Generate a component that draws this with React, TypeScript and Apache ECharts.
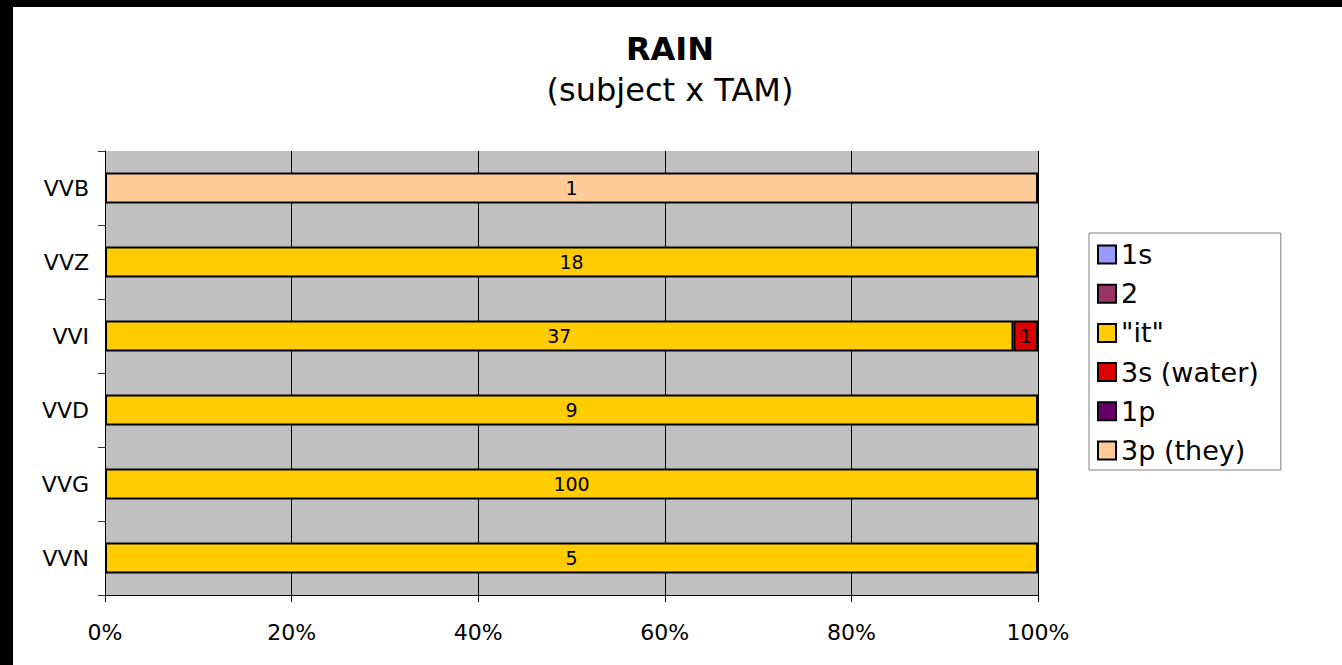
import React, { useEffect, useRef } from "react";
import * as echarts from "echarts";

const categories = ["VVN", "VVG", "VVD", "VVI", "VVZ", "VVB"];
const seriesNames = ["1s", "2", "\"it\"", "3s (water)", "1p", "3p (they)"];
const seriesColors = ["#9999FF", "#993366", "#FFCC00", "#DD0000", "#660066", "#FFCC99"];
const counts1s = [0, 0, 0, 0, 0, 0];
const counts2 = [0, 0, 0, 0, 0, 0];
const countsIt = [5, 100, 9, 37, 18, 0];
const counts3s = [0, 0, 0, 1, 0, 0];
const counts1p = [0, 0, 0, 0, 0, 0];
const counts3p = [0, 0, 0, 0, 0, 1];
const xTicks = [0, 20, 40, 60, 80, 100];

const FONT = "DejaVu Sans";

export default function App() {
  const ref = useRef<HTMLDivElement>(null);
  useEffect(() => {
    if (!ref.current) return;
    const chart = echarts.init(ref.current, null, { renderer: "svg" });
    const all = [counts1s, counts2, countsIt, counts3s, counts1p, counts3p];
    const totals = categories.map((_, i) => all.reduce((s, a) => s + a[i], 0));
    const series = all.map((arr, si) => ({
      name: seriesNames[si],
      type: "bar",
      stack: "total",
      barWidth: 31,
      itemStyle: { color: seriesColors[si], borderColor: "#000", borderWidth: 2 },
      label: {
        show: true,
        position: "inside",
        color: "#000",
        fontSize: 19,
        fontFamily: FONT,
        formatter: (p: any) => String(arr[p.dataIndex]),
      },
      data: arr.map((v, i) => (v > 0 ? (v / totals[i]) * 100 : "-")),
    }));
    chart.setOption({
      animation: false,
      backgroundColor: "#fff",
      title: [
        {
          text: "RAIN",
          left: 665,
          top: 28,
          textAlign: "center",
          textStyle: { fontFamily: FONT, fontSize: 32, fontWeight: "bold", color: "#000" },
        },
        {
          text: "(subject x TAM)",
          left: 665,
          top: 69,
          textAlign: "center",
          textStyle: { fontFamily: FONT, fontSize: 32, fontWeight: "normal", color: "#000" },
        },
      ],
      graphic: [
        { type: "rect", shape: { x: 0, y: 0, width: 1342, height: 7 }, style: { fill: "#000" } },
        { type: "rect", shape: { x: 0, y: 0, width: 13, height: 665 }, style: { fill: "#000" } },
      ],
      legend: {
        orient: "vertical",
        left: 1089,
        top: 233,
        itemWidth: 18,
        itemHeight: 18,
        itemGap: 12.2,
        padding: [8, 22, 6, 8],
        borderColor: "#808080",
        borderWidth: 1,
        icon: "rect",
        textStyle: { fontFamily: FONT, fontSize: 27, color: "#000" },
        data: seriesNames,
      },
      grid: {
        left: 105,
        top: 151,
        width: 933,
        height: 444,
        show: true,
        backgroundColor: "#C0C0C0",
        borderWidth: 0,
      },
      xAxis: {
        type: "value",
        min: xTicks[0],
        max: xTicks[xTicks.length - 1],
        interval: 20,
        axisLine: { show: true, lineStyle: { color: "#000" } },
        axisTick: { show: true, length: 7, lineStyle: { color: "#000" } },
        splitLine: { show: true, lineStyle: { color: "#000", width: 1 } },
        axisLabel: { formatter: "{value}%", fontFamily: FONT, fontSize: 22, color: "#000", margin: 26 },
      },
      yAxis: {
        type: "category",
        data: categories,
        axisLine: { show: true, lineStyle: { color: "#000" } },
        axisTick: { show: true, length: 7, alignWithLabel: false, lineStyle: { color: "#333" } },
        axisLabel: { fontFamily: FONT, fontSize: 22, color: "#000", margin: 16 },
      },
      series,
    });
    return () => chart.dispose();
  }, []);
  return (
    <div style={{ position: "fixed", left: 0, top: 0, width: 1342, height: 665 }}>
      <div ref={ref} style={{ width: 1342, height: 665 }} />
    </div>
  );
}
